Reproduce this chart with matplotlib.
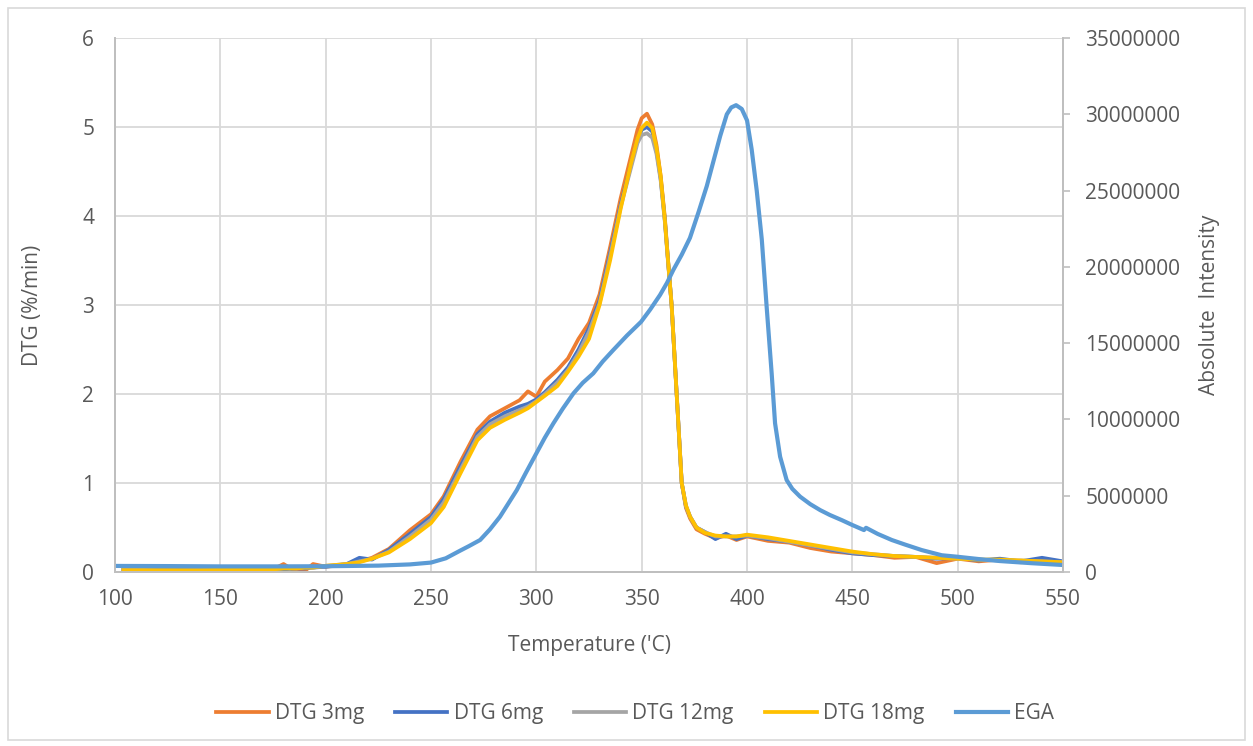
import matplotlib.pyplot as plt
from matplotlib.patches import Rectangle
from matplotlib.ticker import FuncFormatter

plt.rcParams['font.family'] = ['Open Sans', 'DejaVu Sans']

# temperatures ('C) for the DTG runs
temp_dtg = [104, 120, 140, 160, 175, 180, 186, 190, 194, 200,
            210, 216, 222, 230, 240, 250, 256, 264, 272, 278,
            285, 292, 296, 300, 304, 310, 315, 320, 325, 330,
            335, 340, 345, 348, 350, 352.5, 355, 357, 359, 361,
            362.5, 364.2, 366.6, 369, 371, 373, 376, 380, 385, 390,
            395, 400, 410, 420, 430, 440, 450, 460, 470, 480,
            490, 500, 510, 520, 530, 540, 550]

dtg_3mg = [0.02, 0.01, 0.02, 0.02, 0.03, 0.09, 0.0, 0.01, 0.09, 0.06,
           0.08, 0.12, 0.16, 0.26, 0.47, 0.65, 0.85, 1.24, 1.6, 1.75,
           1.84, 1.93, 2.03, 1.97, 2.14, 2.27, 2.40, 2.62, 2.80, 3.12,
           3.65, 4.2, 4.68, 4.97, 5.1, 5.15, 5.03, 4.8, 4.45, 3.98,
           3.5, 3.0, 2.0, 1.0, 0.72, 0.6, 0.48, 0.43, 0.38, 0.41,
           0.36, 0.40, 0.35, 0.33, 0.27, 0.23, 0.21, 0.19, 0.16, 0.17,
           0.10, 0.15, 0.12, 0.14, 0.11, 0.14, 0.10]

dtg_6mg = [0.03, 0.03, 0.02, 0.03, 0.03, 0.03, 0.04, 0.04, 0.05, 0.06,
           0.09, 0.16, 0.14, 0.25, 0.43, 0.62, 0.82, 1.19, 1.55, 1.69,
           1.79, 1.86, 1.89, 1.94, 2.02, 2.16, 2.30, 2.50, 2.74, 3.05,
           3.58, 4.12, 4.58, 4.86, 4.97, 5.0, 4.95, 4.74, 4.42, 3.95,
           3.5, 3.0, 2.0, 1.0, 0.74, 0.62, 0.5, 0.45, 0.37, 0.43,
           0.37, 0.41, 0.37, 0.34, 0.30, 0.25, 0.21, 0.19, 0.18, 0.17,
           0.15, 0.16, 0.13, 0.15, 0.12, 0.16, 0.12]

dtg_12mg = [0.03, 0.02, 0.02, 0.03, 0.03, 0.04, 0.04, 0.05, 0.05, 0.07,
            0.09, 0.12, 0.15, 0.23, 0.40, 0.59, 0.78, 1.15, 1.52, 1.66,
            1.75, 1.82, 1.86, 1.92, 2.0, 2.13, 2.27, 2.46, 2.70, 3.02,
            3.55, 4.1, 4.55, 4.82, 4.91, 4.93, 4.88, 4.7, 4.4, 3.93,
            3.48, 3.0, 2.0, 1.0, 0.74, 0.62, 0.5, 0.45, 0.40, 0.40,
            0.40, 0.41, 0.38, 0.34, 0.30, 0.26, 0.22, 0.20, 0.18, 0.17,
            0.16, 0.15, 0.14, 0.13, 0.13, 0.12, 0.11]

dtg_18mg = [0.02, 0.02, 0.02, 0.03, 0.03, 0.04, 0.04, 0.05, 0.05, 0.07,
            0.09, 0.11, 0.15, 0.22, 0.37, 0.55, 0.73, 1.11, 1.48, 1.62,
            1.71, 1.79, 1.84, 1.91, 1.98, 2.09, 2.25, 2.42, 2.62, 3.0,
            3.5, 4.08, 4.6, 4.87, 4.99, 5.05, 4.99, 4.77, 4.45, 3.95,
            3.5, 3.0, 2.0, 1.0, 0.75, 0.62, 0.5, 0.44, 0.41, 0.40,
            0.40, 0.42, 0.39, 0.35, 0.31, 0.27, 0.23, 0.20, 0.18, 0.17,
            0.16, 0.15, 0.14, 0.14, 0.13, 0.12, 0.11]

# evolved gas analysis (absolute intensity)
temp_ega = [100, 125, 150, 175, 200, 225, 240, 250, 257, 263.8,
            268, 273.3, 278, 282.7, 286.5, 290.7, 295, 300, 304, 308.1,
            312.5, 317.6, 322, 327, 331.5, 336.5, 343, 349.7, 354, 358.7,
            362, 365, 369, 372.9, 377, 380.9, 384, 387.3, 390.4, 392.5,
            394.8, 397.5, 400, 402.2, 404.6, 407, 409.3, 411.7, 413.3, 415.7,
            418.8, 421.5, 425.2, 430, 434.7, 439.3, 445, 450, 455.5, 456.5,
            462, 468.7, 475, 482.9, 492.4, 500, 510, 520, 535, 550]
ega = [0.40e6, 0.39e6, 0.37e6, 0.37e6, 0.38e6, 0.42e6, 0.50e6, 0.62e6, 0.9e6, 1.4e6,
       1.7e6, 2.1e6, 2.8e6, 3.62e6, 4.45e6, 5.37e6, 6.5e6, 7.78e6, 8.8e6, 9.75e6,
       10.7e6, 11.71e6, 12.4e6, 13.02e6, 13.8e6, 14.55e6, 15.5e6, 16.4e6, 17.2e6, 18.16e6,
       18.95e6, 19.8e6, 20.8e6, 21.9e6, 23.6e6, 25.3e6, 26.9e6, 28.6e6, 30.0e6, 30.45e6,
       30.6e6, 30.35e6, 29.6e6, 27.7e6, 25.0e6, 21.8e6, 17.4e6, 13.0e6, 9.75e6, 7.56e6,
       6.03e6, 5.45e6, 4.94e6, 4.45e6, 4.06e6, 3.74e6, 3.4e6, 3.08e6, 2.75e6, 2.9e6,
       2.5e6, 2.1e6, 1.8e6, 1.44e6, 1.1e6, 1.0e6, 0.85e6, 0.72e6, 0.58e6, 0.46e6]

fig = plt.figure(figsize=(12.53, 7.46), dpi=100)
fig.patches.append(Rectangle((0.006, 0.008), 0.988, 0.981, transform=fig.transFigure,
                             fill=False, edgecolor='#D9D9D9', linewidth=1.2))
ax = fig.add_axes([0.0918, 0.2332, 0.7566, 0.7158])

ax.plot(temp_dtg, dtg_3mg, color='#ED7D31', lw=2.7, label='DTG 3mg')
ax.plot(temp_dtg, dtg_6mg, color='#4472C4', lw=2.7, label='DTG 6mg')
ax.plot(temp_dtg, dtg_12mg, color='#A5A5A5', lw=2.7, label='DTG 12mg')
ax.plot(temp_dtg, dtg_18mg, color='#FFC000', lw=2.7, label='DTG 18mg')

ax2 = ax.twinx()
ax2.plot(temp_ega, ega, color='#5B9BD5', lw=3.0, label='EGA')

tick_col = '#595959'
fs = 15
ax.set_xlim(100, 550)
ax.set_ylim(0, 6)
ax.set_xticks(range(100, 551, 50))
ax.set_yticks(range(0, 7))
ax.grid(True, color='#D9D9D9', lw=1.3)
ax.set_axisbelow(True)
ax.tick_params(axis='both', length=0, labelsize=fs, labelcolor=tick_col)
ax.tick_params(axis='y', pad=15)
ax.tick_params(axis='x', pad=12)

ax2.set_ylim(0, 35000000)
ax2.set_yticks(range(0, 35000001, 5000000))
ax2.yaxis.set_major_formatter(FuncFormatter(lambda v, p: f'{int(v)}'))
ax2.tick_params(axis='y', length=5, width=1.2, color='#BFBFBF', labelsize=fs,
                labelcolor=tick_col, pad=11)

for a in (ax, ax2):
    a.spines['top'].set_visible(False)
    for s in ('left', 'right', 'bottom'):
        a.spines[s].set_color('#BFBFBF')
        a.spines[s].set_linewidth(1.3)

ax.set_xlabel("Temperature ('C)", fontsize=fs, color=tick_col)
ax.set_ylabel('DTG (%/min)', fontsize=fs, color=tick_col)
ax2.set_ylabel('Absolute  Intensity', fontsize=fs, color=tick_col)
ax.xaxis.set_label_coords(0.5, -0.117)
ax.yaxis.set_label_coords(-0.076, 0.5)
ax2.yaxis.set_label_coords(1.143, 0.5)

h1, l1 = ax.get_legend_handles_labels()
h2, l2 = ax2.get_legend_handles_labels()
fig.legend(h1 + h2, l1 + l2, loc='center', bbox_to_anchor=(0.507, 0.043), ncol=5,
           frameon=False, fontsize=fs, handlelength=2.5, handletextpad=0.3,
           columnspacing=1.5, labelcolor=tick_col)

fig.savefig('out.png', dpi=100)
